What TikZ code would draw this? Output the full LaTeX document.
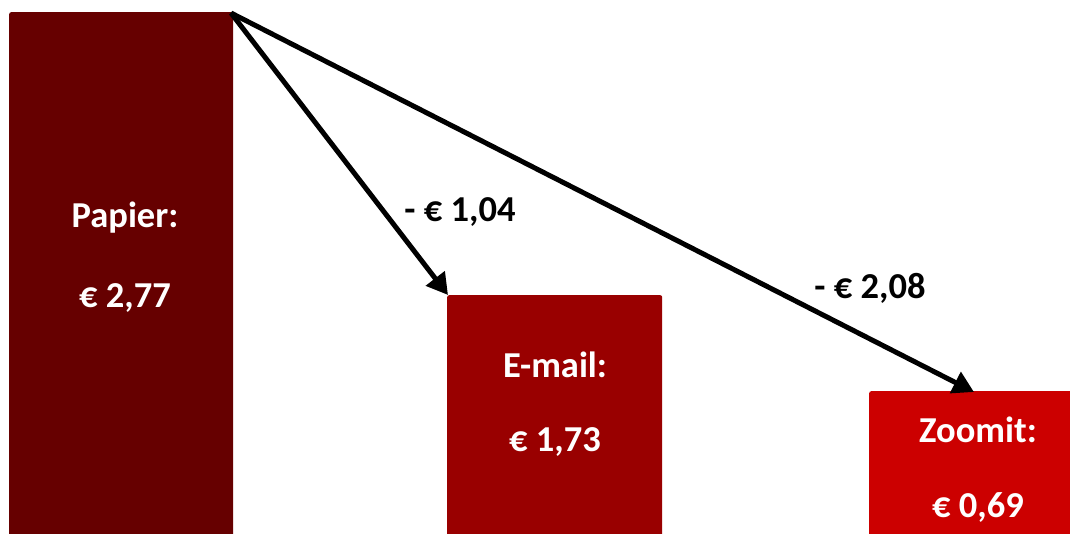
\documentclass[tikz,border=0pt]{standalone}
\usepackage{fontspec}
\setmainfont{Carlito}
\usetikzlibrary{arrows.meta}
\definecolor{cA}{HTML}{660000}
\definecolor{cB}{HTML}{990000}
\definecolor{cC}{HTML}{CC0000}
\tikzset{
  bar/.style={rectangle, rounded corners=2pt, inner sep=0pt, anchor=north west},
  lbl/.style={text=white, font=\fontsize{36.5}{42}\selectfont\bfseries, inner sep=0pt},
  dlbl/.style={text=black, font=\fontsize{36.5}{42}\selectfont\bfseries, inner sep=0pt},
  arr/.style={line width=5pt, -{Triangle[length=21pt,width=23pt]}}
}
\begin{document}
\begin{tikzpicture}[x=1pt,y=-1pt]
\useasboundingbox (0,0) rectangle (1070,533);
\node[bar, fill=cA, minimum width=224pt, minimum height=530pt] (b1) at (9,12) {};
\node[bar, fill=cB, minimum width=215pt, minimum height=250pt] (b2) at (447,295) {};
\node[bar, fill=cC, minimum width=210pt, minimum height=150pt] (b3) at (869,391) {};
\node[lbl] (t1a) at (125,218) {Papier:};
\node[lbl] (t1b) at (125,298) {€ 2,77};
\node[lbl] (t2a) at (555,365) {E-mail:};
\node[lbl] (t2b) at (555,442) {€ 1,73};
\node[lbl] (t3a) at (978,430) {Zoomit:};
\node[lbl] (t3b) at (978,508) {€ 0,69};
\node[dlbl] (d1) at (460,212) {- € 1,04};
\node[dlbl] (d2) at (870,288) {- € 2,08};
\coordinate (s) at (231,13);
\coordinate (e2) at (448,295);
\coordinate (e3) at (974,392);
\draw[arr] (s) -- (e2);
\draw[arr] (s) -- (e3);
\end{tikzpicture}
\end{document}
